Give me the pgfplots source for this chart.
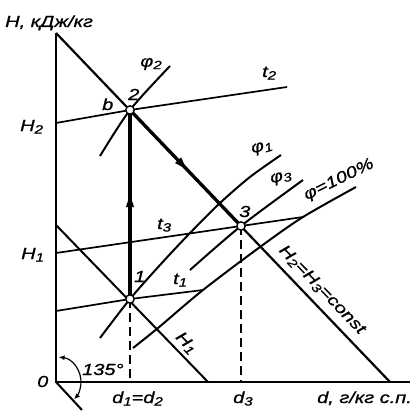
\documentclass[border=0pt]{standalone}
\usepackage{fontspec}
\setmainfont{Liberation Sans}[FakeStretch=1.25, FakeBold=1]
\usepackage{pgfplots}
\pgfplotsset{compat=1.18}
\usetikzlibrary{arrows.meta,decorations.markings}

\newcommand\lab{\fontsize{16}{19}\selectfont\itshape}
\newcommand\sub[1]{\raisebox{-2.5pt}{\fontsize{12}{14}\selectfont #1}}

\begin{document}
\begin{tikzpicture}
\begin{axis}[
  scale only axis, width=417pt, height=412pt,
  xmin=0, xmax=417, ymin=0, ymax=412, y dir=reverse,
  hide axis, clip=false,
  cycle list={{black, solid}},
  every axis plot/.append style={no markers, line width=1.7pt},
  midarrow/.style={postaction={decorate}, decoration={markings,
      mark=at position #1 with {\arrow{Triangle[length=14pt,width=7pt]}}}},
]
% frame: H axis and d axis, plus the 135 degree skew line
\addplot[line width=2.6pt, line join=miter] coordinates {(56,33) (56,382) (410,382)};
\addplot[line width=2pt] coordinates {(56,382) (82,410)};
% isenthalps
\addplot[line width=2.2pt] coordinates {(56,33) (390,382)};
\addplot[line width=2pt] coordinates {(56,225) (208,382)};
% isotherms
\addplot coordinates {(56,123) (130,110) (287,87)};
\addplot coordinates {(56,253) (241,226) (303,217)};
\addplot coordinates {(56,311) (130,299) (203,290)};
% relative humidity curves
\addplot[line width=2pt, smooth] coordinates {(100,156) (130,110) (170,66)};
\addplot[line width=2pt, smooth] coordinates {(100,338) (130,299) (160,265) (190,233) (220,203) (250,177) (281,155)};
\addplot[line width=2pt, smooth] coordinates {(190,270) (241,226) (303,180)};
\addplot[line width=2pt, smooth] coordinates {(133,348) (158,328) (203,290) (260,247) (303,217) (356,187)};
% projections on the d axis
\addplot[line width=1.5pt, dash pattern=on 9pt off 5pt] coordinates {(130,299) (130,382)};
\addplot[line width=1.5pt, dash pattern=on 9pt off 5pt] coordinates {(241,226) (241,382)};
% process 1-2 (heating) and 2-3 (adiabatic humidification)
\addplot[line width=3.3pt, midarrow=0.56] coordinates {(130,299) (130,110)};
\addplot[line width=3.3pt, midarrow=0.52] coordinates {(130,110) (241,226)};
% state points
\addplot[only marks, mark=*, mark size=4.2pt,
  mark options={fill=white, draw=black, line width=1.4pt}]
  coordinates {(130,299) (130,110) (241,226)};

% labels
\node[anchor=base west, inner sep=0pt] at (axis cs:5,27) {\lab H, кДж/кг};
\node[anchor=base west, inner sep=0pt] at (axis cs:20,131) {\lab H\sub2};
\node[anchor=base west, inner sep=0pt] at (axis cs:21,259) {\lab H\sub1};
\node[anchor=base west, inner sep=0pt] at (axis cs:37,387) {\lab 0};
\node[anchor=base west, inner sep=0pt] at (axis cs:82,375) {\lab 135°};
\node[anchor=base west, inner sep=0pt] at (axis cs:112,403) {\lab d\sub1=d\sub2};
\node[anchor=base west, inner sep=0pt] at (axis cs:233,403) {\lab d\sub3};
\node[anchor=base west, inner sep=0pt] at (axis cs:317,403) {\lab d, г/кг с.п.};
\node[anchor=base west, inner sep=0pt] at (axis cs:102,110) {\lab b};
\node[anchor=base west, inner sep=0pt] at (axis cs:128,100) {\lab 2};
\node[anchor=base west, inner sep=0pt] at (axis cs:134,282) {\lab 1};
\node[anchor=base west, inner sep=0pt] at (axis cs:239,217) {\lab 3};
\node[anchor=base west, inner sep=0pt] at (axis cs:262,77) {\lab t\sub2};
\node[anchor=base west, inner sep=0pt] at (axis cs:157,229) {\lab t\sub3};
\node[anchor=base west, inner sep=0pt] at (axis cs:173,284) {\lab t\sub1};
\node[inner sep=0pt] at (axis cs:151,64) {\lab φ\sub2};
\node[rotate=15, inner sep=0pt] at (axis cs:262,148) {\lab φ\sub1};
\node[rotate=15, inner sep=0pt] at (axis cs:281,178) {\lab φ\sub3};
\node[rotate=26, inner sep=0pt] at (axis cs:339,180) {\lab φ=100\%};
\node[rotate=-46, inner sep=0pt] at (axis cs:186,343) {\lab H\sub1};
\node[rotate=-46, inner sep=0pt] at (axis cs:322,290) {\lab H\sub2=H\sub3=const};

% angle between the axes
\coordinate (O) at (axis cs:56,382);
\draw[line width=1.2pt, {Latex[length=6pt,width=5pt]}-{Latex[length=6pt,width=5pt]}]
  ([shift={(84:25pt)}]O) arc[start angle=84, end angle=-44, radius=25pt];

\coordinate (bl) at (axis cs:0,412);
\coordinate (tr) at (axis cs:417,0);
\end{axis}
\pgfresetboundingbox
\path (bl) rectangle (tr);
\end{tikzpicture}
\end{document}
